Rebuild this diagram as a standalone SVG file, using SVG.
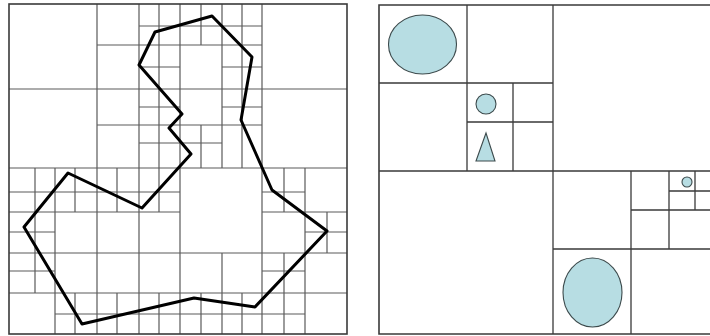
<svg xmlns="http://www.w3.org/2000/svg" width="710" height="336" viewBox="0 0 710 336">
  <style>
    .bg { fill: #ffffff; }
    .frame { fill: none; stroke: #3a3a3a; stroke-width: 1.6; }
    .grid { fill: none; stroke: #5a5a5a; stroke-width: 1.2; }
    .rgrid { fill: none; stroke: #3a3a3a; stroke-width: 1.3; }
    .poly { fill: none; stroke: #000000; stroke-width: 3; stroke-linejoin: round; stroke-linecap: round; }
    .obj { fill: #b7dde3; stroke: #3c4a4c; stroke-width: 1.1; }
  </style>
  <rect class="bg" x="0" y="0" width="710" height="336"/>

  <g id="left-panel">
    <g id="left-grid">
      <path class="grid" d="
        M97 4V334 M139 4V334 M159 4V212 M159 293V334 M180 4V334 M262 4V334
        M201 4V45 M201 125V168 M201 293V334
        M222 4V168 M222 253V334
        M242 4V168 M242 293V334
        M35 168V293 M55 168V334
        M75 168V212 M75 293V334
        M117 168V212 M117 293V334
        M284 168V212 M284 253V334
        M305 168V334 M327 212V253
        M139 26H262 M97 45H262
        M139 67H180 M222 67H262
        M9 89H347
        M139 107H180 M222 107H262
        M97 125H262 M139 143H222
        M9 168H347
        M9 192H180 M262 192H305
        M9 212H180 M262 212H347
        M9 232H55 M305 232H347
        M9 253H347
        M9 271H55 M262 271H305
        M9 293H347
        M55 314H305"/>
    </g>
    <rect class="frame" x="9" y="4" width="338" height="330"/>
    <polygon id="region-outline" class="poly" points="155,32 212,16 252,57 241,120 272,190 327,231 255,307 194,298 82,324 24,227 68,173 142,208 191,154 169,128 182,114 139,65"/>
  </g>

  <g id="right-panel">
    <g id="right-grid">
      <path class="rgrid" d="
        M467 5V171 M379 83H553 M513 83V171 M467 122H553
        M553 5V334 M379 171H710
        M631 171V334 M553 249H710 M669 171V249 M631 210H710
        M695 171V210 M669 191H710"/>
    </g>
    <path class="frame" d="M710 5H379V334H710"/>
    <g id="ellipse-large-nw"><ellipse class="obj" cx="422.5" cy="44.5" rx="34" ry="29.5"/></g>
    <g id="circle-small"><circle class="obj" cx="486" cy="104" r="10"/></g>
    <g id="triangle"><polygon class="obj" points="486,133 476,161 495,161"/></g>
    <g id="circle-tiny"><circle class="obj" cx="687" cy="182" r="5"/></g>
    <g id="ellipse-large-se"><ellipse class="obj" cx="592.5" cy="292.5" rx="29.5" ry="34.5"/></g>
  </g>
</svg>
